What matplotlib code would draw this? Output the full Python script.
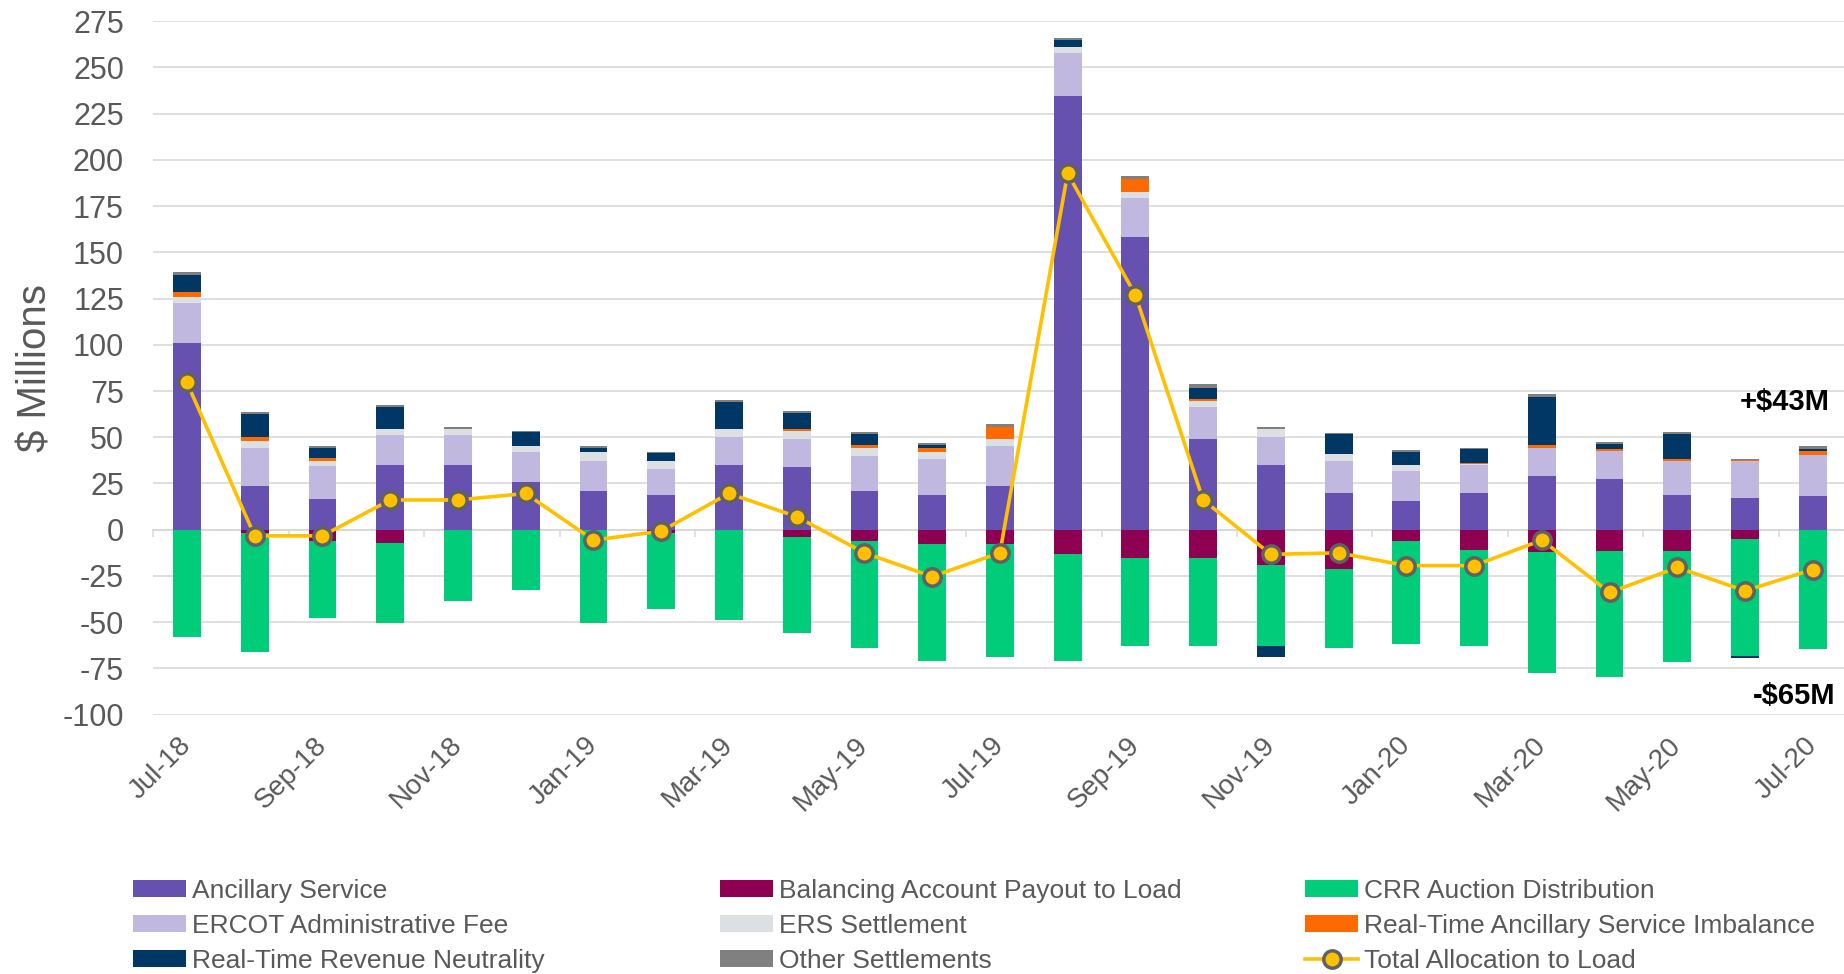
import numpy as np
import matplotlib
matplotlib.use("Agg")
import matplotlib.pyplot as plt
from matplotlib.patches import Patch
from matplotlib.lines import Line2D

plt.rcParams['font.family'] = ['Liberation Sans', 'DejaVu Sans']
plt.rcParams['axes.unicode_minus'] = False

# --- data ($ millions) ---
months = ["Jul-18", "Aug-18", "Sep-18", "Oct-18", "Nov-18", "Dec-18", "Jan-19",
          "Feb-19", "Mar-19", "Apr-19", "May-19", "Jun-19", "Jul-19", "Aug-19",
          "Sep-19", "Oct-19", "Nov-19", "Dec-19", "Jan-20", "Feb-20", "Mar-20",
          "Apr-20", "May-20", "Jun-20", "Jul-20"]

ancillary = [101.0, 23.7, 16.8, 35.0, 35.0, 25.8, 21.2, 18.6, 35.0, 33.9, 21.2, 18.6, 23.7,
             234.7, 158.4, 49.0, 35.0, 19.9, 15.8, 19.9, 29.3, 27.3, 19.0, 17.2, 18.2]
balancing = [0, -1.8, -5.9, -7.1, 0, 0, 0, -1.5, 0, -4.1, -6.1, -7.7, -7.7,
             -13.3, -15.3, -15.3, -19.1, -21.4, -6.1, -11.0, -12.0, -11.7, -11.7, -4.8, 0]
crr = [-58.2, -64.5, -41.8, -43.2, -38.5, -32.7, -50.3, -41.6, -49.0, -51.8, -57.7, -63.0, -60.9,
       -57.4, -47.5, -47.5, -43.7, -42.4, -55.4, -51.8, -65.6, -67.9, -59.8, -63.5, -64.6]
admin_fee = [21.6, 20.7, 17.4, 16.0, 16.0, 16.0, 15.8, 14.3, 15.0, 15.1, 18.6, 19.9, 21.7,
             23.2, 21.2, 17.3, 15.0, 17.3, 15.8, 15.1, 15.1, 15.3, 17.9, 19.8, 22.2]
ers = [3.4, 3.6, 2.8, 3.6, 3.3, 3.6, 4.8, 4.1, 4.6, 4.3, 4.3, 3.6, 3.6,
       3.3, 3.1, 3.3, 4.3, 3.6, 3.4, 0.7, 0, 0, 0, 0, 0]
rt_as_imbalance = [2.3, 2.0, 1.8, 0, 0, 0, 0, 0, 0, 1.3, 1.6, 2.0, 6.6,
                   0, 7.1, 1.1, 0.4, 0, 0, 0.5, 1.3, 1.1, 1.1, 0.5, 2.4]
rt_rev_neutrality = [9.5, 12.8, 5.6, 11.7, 0, 7.2, 2.6, 4.3, 14.3, 8.4, 6.1, 1.6, 0,
                     3.6, 0, 6.1, -5.8, 10.7, 7.1, 7.2, 26.2, 2.5, 14.0, -1.0, 1.1]
other = [1.3, 1.0, 1.0, 1.0, 1.3, 1.0, 1.0, 0.8, 1.0, 1.0, 1.0, 1.0, 1.5,
         1.3, 1.3, 2.0, 0.9, 1.0, 1.0, 1.0, 1.3, 1.1, 1.1, 0.6, 1.1]
total = [79.6, -3.3, -3.3, 16.1, 16.1, 19.6, -5.6, -0.8, 19.6, 7.1, -12.5, -25.3, -12.5,
         192.6, 127.0, 16.1, -13.3, -12.5, -19.4, -19.4, -5.6, -33.9, -20.4, -33.0, -21.5]

series = [
    ("Ancillary Service", ancillary, "#6751B0"),
    ("Balancing Account Payout to Load", balancing, "#8E0052"),
    ("CRR Auction Distribution", crr, "#00CC7A"),
    ("ERCOT Administrative Fee", admin_fee, "#C0B8DE"),
    ("ERS Settlement", ers, "#DDE0E3"),
    ("Real-Time Ancillary Service Imbalance", rt_as_imbalance, "#FF6A00"),
    ("Real-Time Revenue Neutrality", rt_rev_neutrality, "#003764"),
    ("Other Settlements", other, "#808080"),
]
total_label = "Total Allocation to Load"
notes = [(24.25, 69, "+$43M"), (24.34, -90, "-$65M")]

grey = "#595959"
grid = "#D9D9D9"
ymin, ymax = -100, 275

fig = plt.figure(figsize=(18.44, 9.74), dpi=100)
ax = fig.add_axes([0.083, 0.2662, 0.917, 0.7122])

x = np.arange(len(months))
pos = np.zeros(len(months))
neg = np.zeros(len(months))
handles = {}
for name, vals, col in series:
    v = np.array(vals, dtype=float)
    ax.bar(x, v, 0.41, bottom=np.where(v >= 0, pos, neg), color=col, linewidth=0, zorder=2)
    pos += np.clip(v, 0, None)
    neg += np.clip(v, None, 0)
    handles[name] = Patch(facecolor=col, edgecolor='none')

line_kw = dict(color="#FFC000", lw=2.6, marker='o', ms=12.5, mfc="#FFC000",
               mec="#5F6165", mew=2.5)
ax.plot(x, total, zorder=5, **line_kw)
handles[total_label] = Line2D([], [], **line_kw)

ax.set_xlim(-0.5, 24.46)
ax.set_ylim(ymin, ymax)
ax.set_yticks(np.arange(ymin, ymax + 1, 25))
ax.set_xticks(x[::2])
ax.set_xticklabels(months[::2], rotation=45, ha='right', va='center',
                   rotation_mode='anchor')
ax.tick_params(axis='x', length=0, pad=19, labelsize=20, labelcolor=grey)
ax.tick_params(axis='y', length=0, pad=21, labelsize=22, labelcolor=grey)
ax.grid(axis='y', color=grid, lw=1.2)
ax.set_axisbelow(True)
for s in ax.spines.values():
    s.set_visible(False)

ax.set_ylabel("$ Millions", fontsize=29, color=grey)
ax.yaxis.set_label_coords(-0.058, 0.5)

# category axis crossing at zero
zero = ax.secondary_xaxis((0 - ymin) / (ymax - ymin))
zero.set_xticks(np.arange(-0.5, len(months), 2))
zero.set_xticklabels([])
zero.tick_params(length=5, width=1.1, color=grid, direction='out')
zero.spines['bottom'].set_color(grid)
zero.spines['bottom'].set_linewidth(1.3)

for xt, yt, txt in notes:
    ax.text(xt, yt, txt, ha='right', va='center', fontsize=21, fontweight='bold', color='black')

cols = [["Ancillary Service", "ERCOT Administrative Fee", "Real-Time Revenue Neutrality"],
        ["Balancing Account Payout to Load", "ERS Settlement", "Other Settlements"],
        ["CRR Auction Distribution", "Real-Time Ancillary Service Imbalance", total_label]]
for left, names in zip([0.0721, 0.3905, 0.7078], cols):
    fig.legend([handles[n] for n in names], names, loc='upper left',
               bbox_to_anchor=(left, 0.098), frameon=False, fontsize=19,
               labelcolor=grey, handlelength=2.0, handleheight=0.62,
               handletextpad=0.23, labelspacing=0.42, borderpad=0, borderaxespad=0)

fig.savefig("out.png", dpi=100)
